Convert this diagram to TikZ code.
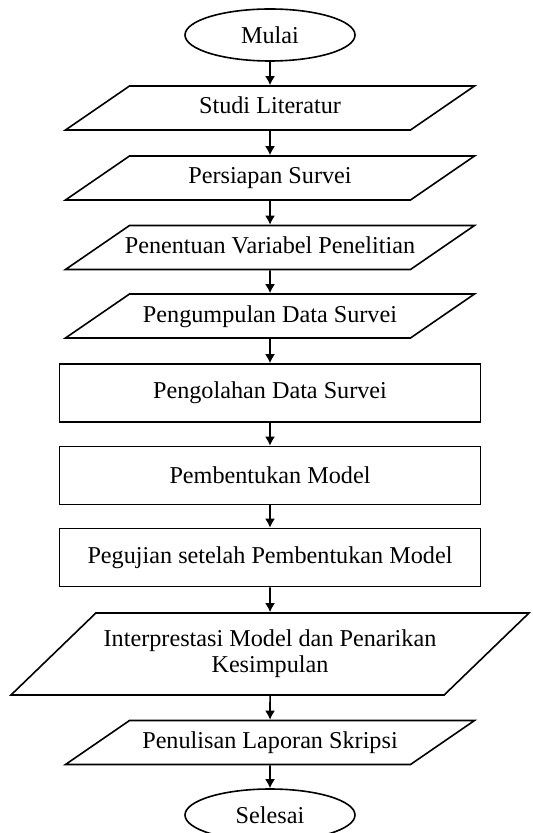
\documentclass[tikz,border=0pt]{standalone}
\usepackage{fontspec}
\setmainfont{Liberation Serif}
\usetikzlibrary{positioning,
        shapes.geometric,
        arrows.meta}

\begin{document}
\begin{tikzpicture}[x=0.5pt,y=-0.5pt,
        font=\fontsize{12.1}{13}\selectfont,
        terminal/.style={ellipse,draw,line width=0.8pt,minimum width=85pt,minimum height=26pt,inner sep=0pt},
        io/.style={trapezium,draw,line width=0.8pt,trapezium left angle=34.5,trapezium right angle=145.5,
                trapezium stretches body=true,minimum width=204.5pt,minimum height=22pt,
                text height=9pt,text depth=3pt,inner xsep=-3pt,inner ysep=5pt},
        proses/.style={rectangle,draw,line width=0.8pt,minimum width=210.5pt,minimum height=29pt},
        panah/.style={-{Latex[length=4.5pt,width=5pt]},line width=0.8pt}]
            \useasboundingbox (0,0) rectangle (533,833);
            \node [terminal] (mulai) at (270,35) {Mulai};
            \node [io] (studi) at (270,108) {Studi Literatur};
            \node [io] (persiapan) at (270,178) {Persiapan Survei};
            \node [io] (penentuan) at (270,247.5) {Penentuan Variabel Penelitian};
            \node [io] (pengumpulan) at (270,316) {Pengumpulan Data Survei};
            \node [proses] (pengolahan) at (270,393) {Pengolahan Data Survei};
            \node [proses] (pembentukan) at (270,475.5) {Pembentukan Model};
            \node [proses] (pengujian) at (270,557.5) {Pegujian setelah Pembentukan Model};
            \node [io,trapezium left angle=44,trapezium right angle=136,minimum width=259pt,minimum height=41pt,
                text height=,text depth=,inner ysep=8.5pt,align=center] (interpretasi) at (270,654)
                {Interprestasi Model dan Penarikan\\Kesimpulan};
            \node [io] (penulisan) at (270,742.5) {Penulisan Laporan Skripsi};
            \node [terminal] (selesai) at (270,815) {Selesai};

            \draw [panah] (mulai) -- (studi);
            \draw [panah] (studi) -- (persiapan);
            \draw [panah] (persiapan) -- (penentuan);
            \draw [panah] (penentuan) -- (pengumpulan);
            \draw [panah] (pengumpulan) -- (pengolahan);
            \draw [panah] (pengolahan) -- (pembentukan);
            \draw [panah] (pembentukan) -- (pengujian);
            \draw [panah] (pengujian) -- (interpretasi);
            \draw [panah] (interpretasi) -- (penulisan);
            \draw [panah] (penulisan) -- (selesai);
        \end{tikzpicture}
\end{document}
